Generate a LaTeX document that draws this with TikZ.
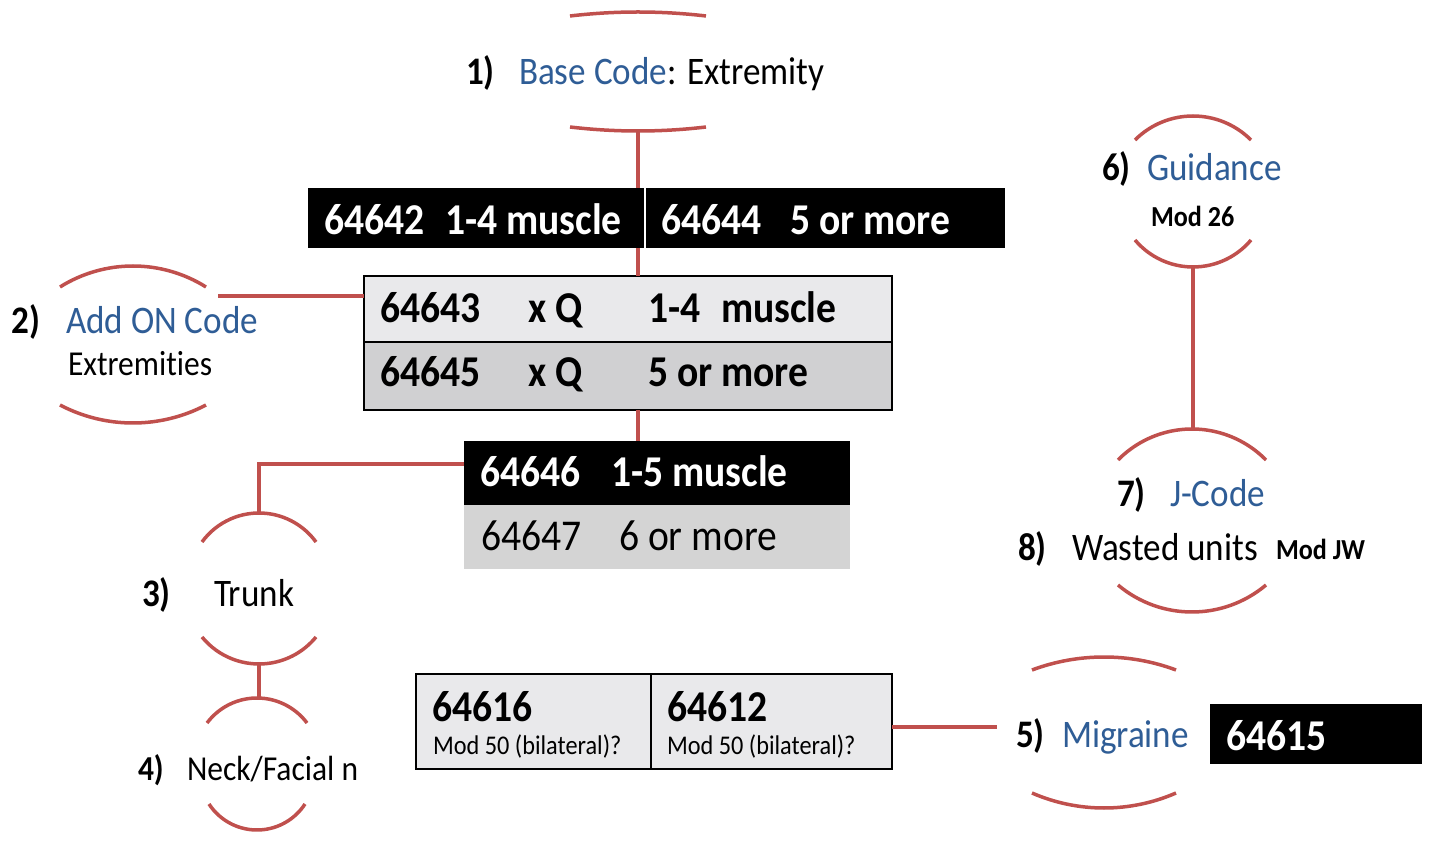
\documentclass[tikz,border=0pt]{standalone}
\usepackage{fontspec}
\setmainfont{Carlito}[FakeStretch=0.9, Ligatures=NoCommon]
\usetikzlibrary{calc}
\definecolor{arcred}{HTML}{C0504D}
\definecolor{codeblue}{HTML}{2F5D96}
\definecolor{rowlight}{HTML}{E9E9EB}
\definecolor{rowmid}{HTML}{D0D0D2}
\definecolor{rowgray}{HTML}{D4D4D4}
\newcommand\fmain{\fontsize{39}{44}\selectfont}
\newcommand\fcode{\fontsize{44}{50}\selectfont\bfseries}
\newcommand\fcodereg{\fontsize{44}{50}\selectfont}
\newcommand\fsub{\fontsize{35}{40}\selectfont}
\newcommand\fsmall{\fontsize{27}{32}\selectfont}
\newcommand\fmod{\fontsize{29}{34}\selectfont\bfseries}
\newcommand\ArcUp[4]{%
  \pgfmathsetmacro\myR{(#3*#3+#4*#4)/(2*#4)}%
  \pgfmathsetmacro\myT{asin(#3/\myR)}%
  \draw[redline] ({#1-#3},{841-#2}) arc[start angle={90+\myT}, end angle={90-\myT}, radius=\myR pt];}
\newcommand\ArcDown[4]{%
  \pgfmathsetmacro\myR{(#3*#3+#4*#4)/(2*#4)}%
  \pgfmathsetmacro\myT{asin(#3/\myR)}%
  \draw[redline] ({#1-#3},{841-#2}) arc[start angle={270-\myT}, end angle={270+\myT}, radius=\myR pt];}
\begin{document}
\begin{tikzpicture}[x=1pt,y=1pt,
  redline/.style={draw=arcred, line width=3.5pt},
  txt/.style={anchor=base west, inner sep=0pt, outer sep=0pt},
  boxnode/.style={anchor=north west, inner sep=0pt, outer sep=0pt, rectangle}]
\useasboundingbox (0,0) rectangle (1429,841);
\fill[white] (0,0) rectangle (1429,841);

% ---------- arcs ----------
\ArcUp{638}{16}{68}{4}
\ArcDown{638}{127}{68}{4}
\ArcUp{133}{287}{73}{21}
\ArcDown{133}{405}{73}{18}
\ArcUp{259}{542}{57}{29}
\ArcDown{259}{637}{57}{27}
\ArcUp{257}{723}{50}{25}
\ArcDown{257}{804}{48}{26}
\ArcUp{1104}{670}{72}{13}
\ArcDown{1104}{793}{72}{15}
\ArcUp{1193}{140}{58}{24}
\ArcDown{1193}{240}{58}{27}
\ArcUp{1192}{460}{74}{31}
\ArcDown{1192}{585}{74}{27}

% ---------- anchor coordinates on arcs ----------
\coordinate (a1b) at (638,{841-131});
\coordinate (a2c) at (218,{841-296});
\coordinate (a3t) at (259,{841-513});
\coordinate (a3b) at (259,{841-664});
\coordinate (a4t) at (259,{841-698});
\coordinate (m5)  at (997,{841-727});
\coordinate (a6b) at (1193,{841-267});
\coordinate (a7t) at (1193,{841-429});

% ---------- black bar (base codes) ----------
\node[boxnode, fill=black, minimum width=697pt, minimum height=60pt] (bar) at (308,{841-188}) {};
\draw[white, line width=1.5pt] (645,{841-188}) -- (645,{841-248});
\node[txt, text=white] (b1) at (324,{841-235}) {\fcode 64642};
\node[txt, text=white] (b2) at (445,{841-235}) {\fcode 1-4 muscle};
\node[txt, text=white] (b3) at (661,{841-235}) {\fcode 64644};
\node[txt, text=white] (b4) at (790,{841-235}) {\fcode 5 or more};

% ---------- table 2 (add-on codes) ----------
\node[boxnode, fill=rowlight, minimum width=528pt, minimum height=66pt] (t2a) at (364,{841-276}) {};
\node[boxnode, fill=rowmid, minimum width=528pt, minimum height=68pt] (t2b) at (364,{841-342}) {};
\draw[black, line width=1.5pt] (t2a.south west) -- (t2a.south east);
\draw[black, line width=2pt] (t2a.north west) rectangle (t2b.south east);
\node[txt] at (380,{841-323}) {\fcode 64643};
\node[txt] at (528,{841-323}) {\fcode x Q};
\node[txt] at (648,{841-323}) {\fcode 1-4};
\node[txt] at (721,{841-323}) {\fcode muscle};
\node[txt] at (380,{841-387}) {\fcode 64645};
\node[txt] at (528,{841-387}) {\fcode x Q};
\node[txt] at (648,{841-387}) {\fcode 5 or more};

% ---------- table 3 (trunk codes) ----------
\node[boxnode, fill=black, minimum width=386pt, minimum height=64pt] (t3a) at (464,{841-441}) {};
\node[boxnode, fill=rowgray, minimum width=386pt, minimum height=64pt] (t3b) at (464,{841-505}) {};
\node[txt, text=white] at (480,{841-487}) {\fcode 64646};
\node[txt, text=white] at (611,{841-487}) {\fcode 1-5 muscle};
\node[txt] at (481,{841-551}) {\fcodereg 64647};
\node[txt] at (619,{841-551}) {\fcodereg 6 or more};

% ---------- table 5 (neck / facial) ----------
\node[boxnode, fill=rowlight, draw=black, line width=2pt, minimum width=476pt, minimum height=95pt] (t5) at (416,{841-674}) {};
\draw[black, line width=2pt] (651,{841-674}) -- (651,{841-769});
\node[txt] at (432,{841-721}) {\fcode 64616};
\node[txt] at (433,{841-754}) {\fsmall Mod 50 (bilateral)?};
\node[txt] at (667,{841-721}) {\fcode 64612};
\node[txt] at (667,{841-754}) {\fsmall Mod 50 (bilateral)?};

% ---------- migraine code box ----------
\node[boxnode, fill=black, minimum width=212pt, minimum height=60pt] (mig) at (1210,{841-704}) {};
\node[txt, text=white] at (1226,{841-750}) {\fcode 64615};

% ---------- connectors ----------
\draw[redline] (a1b) -- (a1b |- bar.north);
\draw[redline] (a1b |- bar.south) -- (a1b |- t2a.north);
\draw[redline] (a1b |- t2b.south) -- (a1b |- t3a.north);
\draw[redline] (a2c) -- (a2c -| t2a.west);
\draw[redline] (a3t) |- ($(t3a.west)+(0,9)$);
\draw[redline] (a3b) -- (a4t);
\draw[redline] (t5.east |- m5) -- (m5);
\draw[redline] (a6b) -- (a7t);

% ---------- labels ----------
\node[txt] at (466,{841-85}) {\fmain\bfseries 1)};
\node[txt] at (519,{841-85}) {\fmain{\color{codeblue}Base Code}: Extremity};

\node[txt] at (12,{841-334}) {\fmain\bfseries 2)};
\node[txt, text=codeblue] at (66,{841-334}) {\fmain Add ON Code};
\node[txt] at (68,{841-376}) {\fsub Extremit\kern0pt ies};

\node[txt] at (142,{841-607}) {\fmain\bfseries 3)};
\node[txt] at (214,{841-607}) {\fmain Trunk};

\node[txt] at (138,{841-780}) {\fsub\bfseries 4)};
\node[txt] at (187,{841-780}) {\fsub Neck/Facial n};

\node[txt] at (1016,{841-747}) {\fmain\bfseries 5)};
\node[txt, text=codeblue] at (1062,{841-747}) {\fmain Migraine};

\node[txt] at (1102,{841-181}) {\fmain\bfseries 6)};
\node[txt, text=codeblue] at (1147,{841-181}) {\fmain Guidance};
\node[txt] at (1151,{841-227}) {\fmod Mod 26};

\node[txt] at (1117,{841-507}) {\fmain\bfseries 7)};
\node[txt, text=codeblue] at (1170,{841-507}) {\fmain J-Code};

\node[txt] at (1018,{841-561}) {\fmain\bfseries 8)};
\node[txt] at (1072,{841-561}) {\fmain Wasted units};
\node[txt] at (1276,{841-560}) {\fmod Mod JW};
\end{tikzpicture}
\end{document}
